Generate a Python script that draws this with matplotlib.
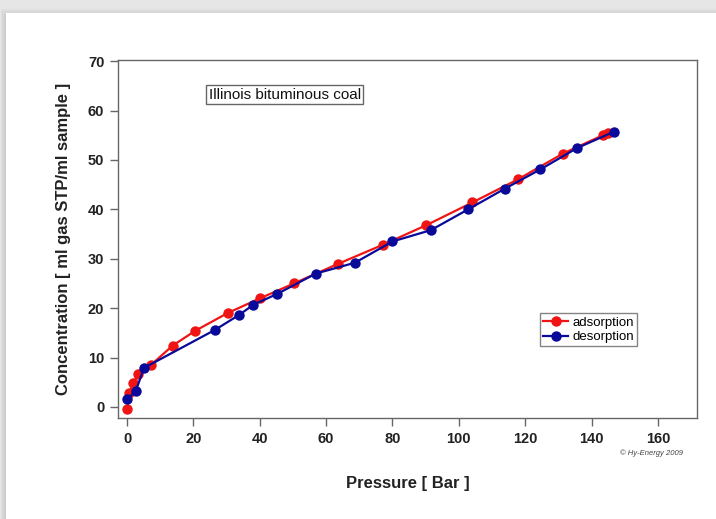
import matplotlib
matplotlib.use("Agg")
import matplotlib.pyplot as plt
from matplotlib.patches import Rectangle

plt.rcParams["font.family"] = ["Liberation Sans", "DejaVu Sans"]

# adsorption branch (pressure in bar, concentration in ml/ml)
ads_p = [0.1, 0.6, 1.9, 3.4, 7.2, 13.7, 20.5, 30.3, 40.1, 50.3, 63.7, 77.0,
         90.2, 104.1, 117.9, 131.4, 143.4, 145.0]
ads_c = [-0.4, 2.8, 4.8, 6.7, 8.5, 12.4, 15.4, 19.0, 22.0, 25.0, 29.0, 32.8,
         36.8, 41.4, 46.1, 51.3, 55.0, 55.5]

# desorption branch
des_p = [146.7, 135.6, 124.6, 113.9, 102.8, 91.6, 80.0, 68.7, 56.9, 45.3,
         38.1, 33.7, 26.5, 5.1, 2.6, 0.1]
des_c = [55.7, 52.4, 48.1, 44.2, 40.0, 35.8, 33.5, 29.2, 27.0, 22.9,
         20.7, 18.6, 15.6, 7.9, 3.2, 1.6]

x_ticks = [0, 20, 40, 60, 80, 100, 120, 140, 160]
y_ticks = [0, 10, 20, 30, 40, 50, 60, 70]

fig = plt.figure(figsize=(7.16, 5.19), dpi=100)
fig.patch.set_facecolor("#e6e6e6")

# white "page" with a soft shadow, on a background axes
bg = fig.add_axes([0, 0, 1, 1], zorder=-10)
bg.set_axis_off()
bg.set_xlim(0, 1)
bg.set_ylim(0, 1)
for i, a in enumerate([0.10, 0.15, 0.22]):
    bg.add_patch(Rectangle((0.001 + 0.002 * i, -0.01), 1.0, 0.993 - 0.005 * i,
                           facecolor="#aaaaaa", alpha=a, edgecolor="none"))
bg.add_patch(Rectangle((0.008, -0.01), 1.0, 0.985,
                       facecolor="white", edgecolor="none"))

ax = fig.add_axes([0.165, 0.195, 0.808, 0.689])
ax.set_facecolor("white")

ax.plot(ads_p, ads_c, "-o", color="#f01414", lw=1.6, ms=7.5,
        markeredgewidth=0, label="adsorption")
ax.plot(des_p, des_c, "-o", color="#0a0a9a", lw=1.6, ms=7.5,
        markeredgewidth=0, label="desorption")

ax.set_xlim(-2.7, 171.7)
ax.set_ylim(-2.2, 70.2)
ax.set_xticks(x_ticks)
ax.set_yticks(y_ticks)
for s in ax.spines.values():
    s.set_color("#666666")
    s.set_linewidth(1.0)
ax.tick_params(direction="out", length=6, width=1, color="#666666",
               labelsize=10.5, pad=4)
for lab in ax.get_xticklabels() + ax.get_yticklabels():
    lab.set_fontweight("bold")
    lab.set_color("#222222")

ax.set_xlabel("Pressure [ Bar ]", fontsize=12, fontweight="bold",
              color="#222222", labelpad=22)
ax.set_ylabel("Concentration [ ml gas STP/ml sample ]", fontsize=12,
              fontweight="bold", color="#222222", labelpad=12)

ax.text(24.6, 63.2, "Illinois bituminous coal", fontsize=11, va="center",
        ha="left", color="#111111",
        bbox=dict(boxstyle="square,pad=0.15", facecolor="white",
                  edgecolor="#666666", linewidth=1))

leg = ax.legend(loc="upper left", bbox_to_anchor=(0.729, 0.292), fontsize=9.5,
                frameon=True, fancybox=False, borderpad=0.25, handlelength=1.9,
                handletextpad=0.3, labelspacing=0.15, borderaxespad=0)
leg.get_frame().set_edgecolor("#666666")
leg.get_frame().set_linewidth(1)

fig.text(0.954, 0.127, "\u00a9 Hy-Energy 2009", fontsize=5.5, style="italic",
         ha="right", va="center", color="#444444")

fig.savefig("out.png", dpi=100, facecolor=fig.get_facecolor())
